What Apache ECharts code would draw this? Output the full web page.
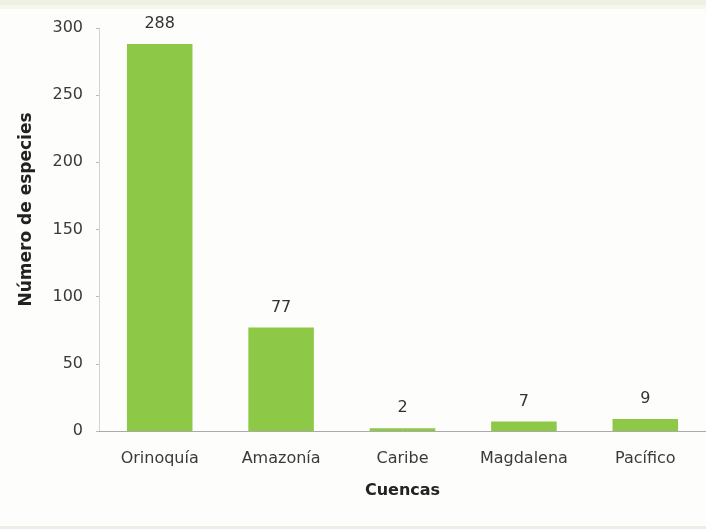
<!DOCTYPE html>
<html><head><meta charset="utf-8">
<script src="https://cdn.jsdelivr.net/npm/echarts@6/dist/echarts.min.js"></script>
<style>html,body{margin:0;padding:0;background:#fdfdfb;}#c{width:706px;height:529px;}</style>
</head><body><div id="c"></div>
<script>
const categories = ['Orinoquía', 'Amazonía', 'Caribe', 'Magdalena', 'Pacífico'];
const values = [288, 77, 2, 7, 9];
const yTicks = [0, 50, 100, 150, 200, 250, 300];

const FONT = 'DejaVu Sans';
const chart = echarts.init(document.getElementById('c'));
chart.setOption({
  backgroundColor: '#fdfdfb',
  animation: false,
  graphic: [
    {type: 'rect', shape: {x: 0, y: 0, width: 706, height: 5}, style: {fill: '#eef0e2'}, silent: true},
    {type: 'rect', shape: {x: 0, y: 5, width: 706, height: 4}, style: {fill: '#f6f7ef'}, silent: true},
    {type: 'rect', shape: {x: 0, y: 526, width: 706, height: 3}, style: {fill: '#eceee6'}, silent: true}
  ],
  grid: {left: 99, top: 28, width: 612, height: 403, containLabel: false},
  xAxis: {
    type: 'category',
    data: categories,
    name: 'Cuencas',
    nameLocation: 'middle',
    nameGap: 52,
    nameTextStyle: {fontFamily: FONT, fontWeight: 'bold', fontSize: 16, color: '#222'},
    axisLine: {lineStyle: {color: '#aaaaaa', width: 1}},
    axisTick: {show: false},
    axisLabel: {fontFamily: FONT, fontSize: 16, color: '#3a3a3a', margin: 20}
  },
  yAxis: {
    type: 'value',
    min: yTicks[0],
    max: yTicks[yTicks.length - 1],
    interval: 50,
    name: 'Número de especies',
    nameLocation: 'middle',
    nameGap: 64,
    nameTextStyle: {fontFamily: FONT, fontWeight: 'bold', fontSize: 17, color: '#222', padding: [0, 0, 0, 40]},
    axisLine: {show: true, lineStyle: {color: '#d4d4d4', width: 1}},
    axisTick: {show: true, length: 3, lineStyle: {color: '#bbbbbb'}},
    splitLine: {show: false},
    axisLabel: {fontFamily: FONT, fontSize: 16, color: '#3a3a3a', margin: 16}
  },
  series: [{
    type: 'bar',
    data: values,
    barWidth: '54%',
    itemStyle: {color: '#8dc947'},
    label: {show: true, position: 'top', distance: 12, fontFamily: FONT, fontSize: 16, color: '#333'}
  }]
});
</script></body></html>
